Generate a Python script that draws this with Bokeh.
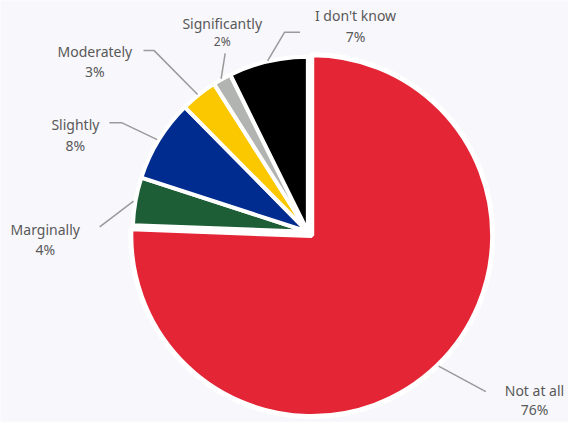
import math
from bokeh.plotting import figure
from bokeh.models import ColumnDataSource, Range1d
from bokeh.core.properties import value
from bokeh.embed import file_html
from bokeh.resources import INLINE

# ---- data ----
categories = ["Not at all", "Marginally", "Slightly", "Moderately", "Significantly", "I don't know"]
shares = [75.6, 4.4, 7.6, 3.4, 1.7, 7.3]
colors = ["#e42535", "#1d5e37", "#002c8f", "#fbc800", "#b2b4b1", "#000000"]

# ---- layout (reference pixel space, y down) ----
W, H = 584, 438
BG = "#f8f7fc"
CENTER = (316, 240)
RADIUS = 180
SLICED_CENTER = (320, 244)   # the first slice is pulled out / enlarged
SLICED_RADIUS = 186

# connector elbow/end points and label centres per category (page pixels)
label_layout = {
    "Not at all":    dict(path=[(499, 406)], text=(549, 405), pct=(549, 425), pct_size="14px"),
    "Marginally":    dict(path=[(102, 235)], text=(46, 238), pct=(46, 258), pct_size="14px"),
    "Slightly":      dict(path=[(125, 127), (112, 127)], text=(77, 129), pct=(77, 150), pct_size="14px"),
    "Moderately":    dict(path=[(158, 52), (147, 52)], text=(97, 53), pct=(97, 74), pct_size="14px"),
    "Significantly": dict(path=[(231, 55)], text=(228, 24), pct=(228, 43), pct_size="12px"),
    "I don't know":  dict(path=[(292, 33), (308, 33)], text=(365, 16), pct=(365, 37), pct_size="14px"),
}


def Y(py):
    return H - py


p = figure(width=568, height=422, output_backend="svg", toolbar_location=None,
           x_range=Range1d(0, W), y_range=Range1d(0, H), min_border=0,
           background_fill_color=BG, border_fill_color=BG)
p.axis.visible = False
p.grid.visible = False
p.outline_line_color = None

total = sum(shares)
xs, ys, rs, sa, ea, lw, mids = [], [], [], [], [], [], []
cum = 0.0
for i, s in enumerate(shares):
    start = 90 - 360 * cum / total
    cum += s
    end = 90 - 360 * cum / total
    mids.append(math.radians((start + end) / 2))
    cx, cy = (SLICED_CENTER if i == 0 else CENTER)
    xs.append(cx)
    ys.append(Y(cy))
    rs.append(SLICED_RADIUS if i == 0 else RADIUS)
    sa.append(math.radians(start))
    ea.append(math.radians(end))
    lw.append(5 if i == 0 else 4)

src = ColumnDataSource(dict(x=xs, y=ys, r=rs, sa=sa, ea=ea, color=colors, lw=lw))
p.wedge(x="x", y="y", radius="r", start_angle="sa", end_angle="ea", direction="clock",
        fill_color="color", line_color="white", line_width="lw", source=src)

# connectors
cxs, cys = [], []
for i, cat in enumerate(categories):
    cx, cy = (SLICED_CENTER if i == 0 else CENTER)
    rr = (SLICED_RADIUS + 2) if i == 0 else (RADIUS + 2)
    sx = cx + rr * math.cos(mids[i])
    sy = cy - rr * math.sin(mids[i])
    pts = [(sx, sy)] + label_layout[cat]["path"]
    cxs.append([pt[0] for pt in pts])
    cys.append([Y(pt[1]) for pt in pts])
p.multi_line(xs=cxs, ys=cys, line_color="#9a9a9a", line_width=1.5)

# labels
for i, cat in enumerate(categories):
    lay = label_layout[cat]
    p.text(x=[lay["text"][0]], y=[Y(lay["text"][1])], text=[cat],
           text_font=value("Noto Sans"), text_font_size="14px", text_color="#595959",
           text_align="center", text_baseline="middle")
    p.text(x=[lay["pct"][0]], y=[Y(lay["pct"][1])], text=[f"{round(shares[i])}%"],
           text_font=value("Noto Sans"), text_font_size=lay["pct_size"], text_color="#595959",
           text_align="center", text_baseline="middle")

open("out.html", "w").write(file_html(p, INLINE))
